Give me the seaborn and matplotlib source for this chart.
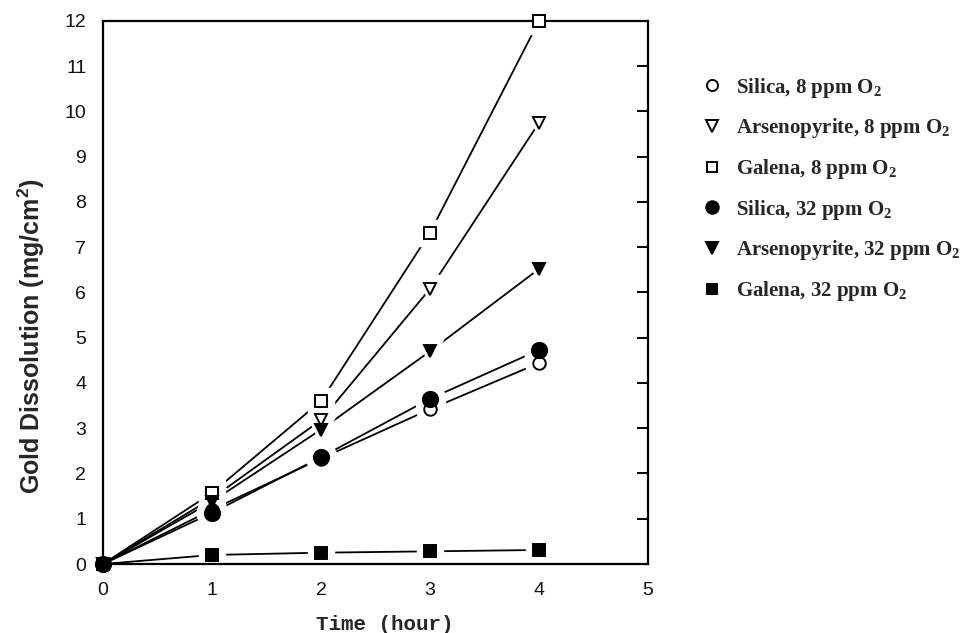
import matplotlib
matplotlib.use("Agg")
import matplotlib.pyplot as plt
from matplotlib.lines import Line2D
import numpy as np
import pandas as pd
import seaborn as sns

# Gold dissolution vs time for different minerals and dissolved O2 levels
time_h = [0, 1, 2, 3, 4]
silica_8 = [0, 1.20, 2.33, 3.42, 4.44]
arseno_8 = [0, 1.45, 3.18, 6.08, 9.75]
galena_8 = [0, 1.57, 3.60, 7.32, 12.0]
silica_32 = [0, 1.13, 2.36, 3.65, 4.73]
arseno_32 = [0, 1.38, 2.97, 4.70, 6.52]
galena_32 = [0, 0.20, 0.25, 0.28, 0.31]

labels = [
    "Silica, 8 ppm O$_2$",
    "Arsenopyrite, 8 ppm O$_2$",
    "Galena, 8 ppm O$_2$",
    "Silica, 32 ppm O$_2$",
    "Arsenopyrite, 32 ppm O$_2$",
    "Galena, 32 ppm O$_2$",
]
series = [silica_8, arseno_8, galena_8, silica_32, arseno_32, galena_32]
markers = ["o", "v", "s", "o", "v", "s"]
filled = [False, False, False, True, True, True]
msize = [9, 9, 8, 11, 9, 8]
marker_z = [6, 5, 5, 9, 7, 8]

sns.set_theme(style="white")
plt.rcParams["mathtext.default"] = "regular"

fig = plt.figure(figsize=(9.78, 6.33), dpi=100)
ax = fig.add_axes([0.1053, 0.109, 0.5573, 0.858])

frames = []
for lab, vals in zip(labels, series):
    frames.append(pd.DataFrame({"time": time_h, "gold": vals, "series": lab}))
df = pd.concat(frames, ignore_index=True)

# connecting lines
for lab in labels:
    sub = df[df["series"] == lab]
    sns.lineplot(data=sub, x="time", y="gold", color="black", lw=1.3,
                 ax=ax, legend=False, zorder=1)

# white halos break the lines around each marker (not at the origin)
for lab, mk, ms in zip(labels, markers, msize):
    sub = df[(df["series"] == lab) & (df["time"] > 0)]
    ax.plot(sub["time"], sub["gold"], ls="none", marker=mk, ms=ms + 11,
            mfc="white", mec="white", zorder=2)

handles = []
for lab, mk, ms, fl, z in zip(labels, markers, msize, filled, marker_z):
    sub = df[df["series"] == lab]
    fc = "black" if fl else "white"
    ax.plot(sub["time"], sub["gold"], ls="none", marker=mk, ms=ms,
            mfc=fc, mec="black", mew=1.4, zorder=z, clip_on=False)
    handles.append(Line2D([], [], ls="none", marker=mk, ms=min(ms, 10) - 1,
                          mfc=fc, mec="black", mew=1.4))

ax.set_xlim(0, 5)
ax.set_ylim(0, 12)
ax.set_xticks(range(0, 6))
ax.set_yticks(range(0, 13))
tick_font = {"family": "Liberation Sans", "size": 14}
ax.set_xticklabels([str(v) for v in range(0, 6)], fontdict=tick_font)
ax.set_yticklabels([str(v) for v in range(0, 13)], fontdict=tick_font)
ax.tick_params(axis="both", direction="in", length=8, width=1.4,
               color="black", top=False, right=True,
               labelcolor="#111111")
ax.tick_params(axis="x", pad=13)
ax.tick_params(axis="y", pad=12)
for sp in ax.spines.values():
    sp.set_color("black")
    sp.set_linewidth(1.6)

ax.set_xlabel("Time (hour)", family="Liberation Mono", weight="bold",
              size=15)
ax.xaxis.set_label_coords(0.517, -0.093)
ax.set_ylabel("Gold Dissolution (mg/cm$^2$)", family="Liberation Sans",
              weight="bold", size=18)
ax.yaxis.set_label_coords(-0.103, 0.42)

leg = fig.legend(handles, labels, loc="upper left",
                 bbox_to_anchor=(0.70, 0.91), frameon=False,
                 handlelength=0.8, handletextpad=0.75, labelspacing=0.8,
                 prop={"family": "Liberation Serif", "weight": "bold",
                       "size": 15})

fig.savefig("out.png", dpi=100, facecolor="white")
